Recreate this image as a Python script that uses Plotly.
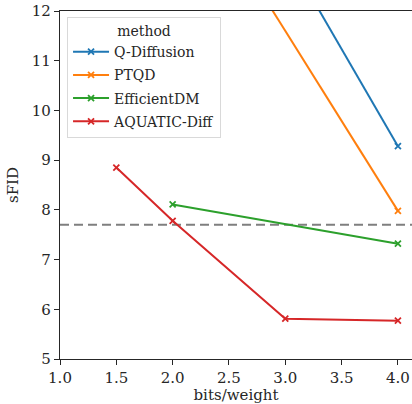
import plotly.graph_objects as go

methods = ["Q-Diffusion", "PTQD", "EfficientDM", "AQUATIC-Diff"]
colors = ["#1f77b4", "#ff7f0e", "#2ca02c", "#d62728"]

qdiff_x = [2, 3, 4]
qdiff_y = [17.1, 13.2, 9.28]
ptqd_x = [2, 4]
ptqd_y = [15.22, 7.98]
effdm_x = [2, 4]
effdm_y = [8.11, 7.32]
aquatic_x = [1.5, 2, 3, 4]
aquatic_y = [8.85, 7.78, 5.81, 5.77]

threshold = 7.7

x_ticks = [1.0, 1.5, 2.0, 2.5, 3.0, 3.5, 4.0]
y_ticks = [5, 6, 7, 8, 9, 10, 11, 12]

series = [(qdiff_x, qdiff_y), (ptqd_x, ptqd_y), (effdm_x, effdm_y), (aquatic_x, aquatic_y)]

FONT = "DejaVu Serif, Liberation Serif, serif"
fig = go.Figure()
for name, color, (xs, ys) in zip(methods, colors, series):
    fig.add_trace(go.Scatter(
        x=xs, y=ys, name=name, mode="lines+markers", legendgroup=name,
        line=dict(color=color, width=2),
        marker=dict(symbol="x-thin", size=6, color=color, line=dict(color=color, width=1.8)),
        cliponaxis=True,
    ))

fig.add_shape(type="line", xref="paper", x0=0, x1=1, yref="y", y0=threshold, y1=threshold,
              line=dict(color="#7f7f7f", width=2, dash="9px,5px"), layer="below")

fig.update_layout(
    width=412, height=404,
    margin=dict(l=60, r=0, t=11, b=45),
    paper_bgcolor="white", plot_bgcolor="white",
    font=dict(family=FONT, size=14, color="#262626"),
    showlegend=True,
    legend=dict(
        title=dict(text="method", side="top center", font=dict(family=FONT, size=14)),
        x=0.02, y=0.983, xanchor="left", yanchor="top",
        bgcolor="rgba(255,255,255,0.8)", bordercolor="#d9d9d9", borderwidth=1,
        font=dict(family=FONT, size=14), itemwidth=36,
        traceorder="grouped", tracegroupgap=2,
    ),
    xaxis=dict(
        range=[1.0, 4.125], tickvals=x_ticks, ticktext=[f"{v:.1f}" for v in x_ticks],
        showgrid=False, zeroline=False, showline=True, linecolor="#262626", linewidth=1.2,
        mirror=True, ticks="outside", ticklen=5, tickcolor="#262626", automargin=False,
        ticklabeloverflow="allow",
        tickfont=dict(family=FONT, size=15),
        title=dict(text="bits/weight", standoff=6, font=dict(family=FONT, size=15)),
    ),
    yaxis=dict(
        range=[5, 12], tickvals=y_ticks,
        showgrid=False, zeroline=False, showline=True, linecolor="#262626", linewidth=1.2,
        mirror=True, ticks="outside", ticklen=5, tickcolor="#262626", automargin=False,
        ticklabeloverflow="allow",
        tickfont=dict(family=FONT, size=15),
        title=dict(text="sFID", standoff=9, font=dict(family=FONT, size=15)),
    ),
)

fig.write_html(
    "out.html",
    config={"displayModeBar": False},
    post_script="document.body.style.margin='0';document.body.style.overflow='hidden';",
)
